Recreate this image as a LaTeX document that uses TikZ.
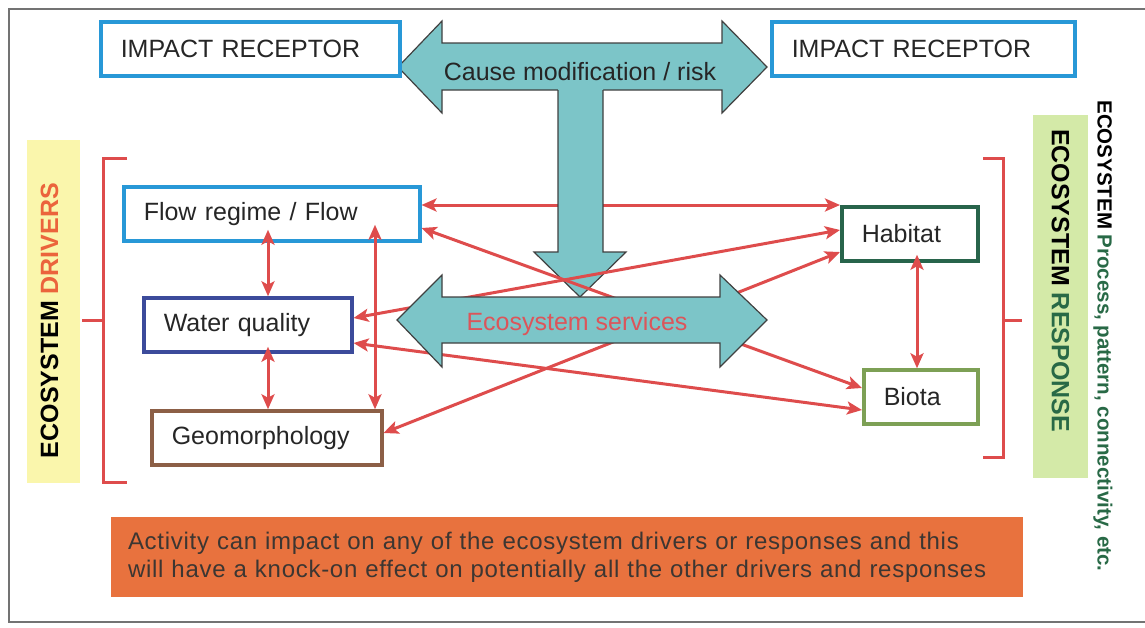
\documentclass[tikz,border=0pt]{standalone}
\usepackage{fontspec}
\setmainfont{Liberation Sans}
\newfontfamily\notefont[LetterSpace=3]{Liberation Sans}
\usetikzlibrary{positioning,arrows.meta,calc}
\definecolor{receptorblue}{RGB}{40,152,215}
\definecolor{waterblue}{RGB}{60,75,155}
\definecolor{geobrown}{RGB}{140,95,70}
\definecolor{habitatgreen}{RGB}{40,100,75}
\definecolor{biotagreen}{RGB}{125,160,85}
\definecolor{arrowteal}{RGB}{124,197,200}
\definecolor{linkred}{RGB}{222,76,76}
\definecolor{servicesred}{RGB}{220,85,90}
\definecolor{driveryellow}{RGB}{250,246,172}
\definecolor{driverorange}{RGB}{235,100,60}
\definecolor{responsegreen}{RGB}{212,234,168}
\definecolor{textgreen}{RGB}{40,105,70}
\definecolor{noteorange}{RGB}{232,114,62}
\definecolor{notegrey}{RGB}{60,54,50}
\tikzset{
	>={Stealth[length=15pt,width=13pt,inset=3.5pt]}
}

\begin{document}
\begin{tikzpicture}[
x = 1pt, y = -1pt,
every node/.style = {
	font = \fontsize{25}{28}\selectfont
},
box/.style = {
	draw,
	line width = 3.5pt,
	fill = white,
	minimum height = 54pt,
	inner xsep = 20pt,
	align = left,
	anchor = west,
	text = black!85
},
bigarrow/.style = {
	fill = arrowteal,
	draw = black!75,
	line width = 1.2pt
},
link/.style = {
	<->,
	draw = linkred,
	line width = 3pt
},
bracket/.style = {
	draw = linkred,
	line width = 3pt
},
sidelabel/.style = {
	font = \bfseries\fontsize{25}{28}\selectfont
}
]
\useasboundingbox (0,0) rectangle (1145,627);
\draw[black!55, line width=1.5pt] (1145,9) -- (9,9) -- (9,622) -- (1145,622);

% receptors and cause arrow
\draw[bigarrow] (398,67) -- (442,21) -- (442,43) -- (722,43) -- (722,21) -- (767,67) -- (722,113) -- (722,90) -- (442,90) -- (442,113) -- cycle;
\node (cause) [text=black!85] at (580,72) {Cause modification / risk};
\node (recleft) [box, draw=receptorblue, text width=259pt] at (99,49) {IMPACT RECEPTOR};
\node (recright) [box, draw=receptorblue, text width=263pt] at (770,49) {IMPACT RECEPTOR};

% drivers
\node (flow) [box, draw=receptorblue, text width=256pt] at (122,214) {Flow regime / Flow};
\node (water) [box, draw=waterblue, text width=168pt] at (142,325) {Water quality};
\node (geo) [box, draw=geobrown, text width=190pt] at (150,438) {Geomorphology};

% responses
\node (hab) [box, draw=habitatgreen, text width=96pt] at (840,234) {Habitat};
\node (biota) [box, draw=biotagreen, text width=74pt] at (862,397) {Biota};

\draw[link] ([yshift=9pt]flow.east) -- ([yshift=29pt]hab.west);

% downward arrow
\fill[arrowteal] (558,88) -- (558,252) -- (534,252) -- (580,297) -- (626,252) -- (603,252) -- (603,88) -- cycle;
\draw[bigarrow, fill=none] (558,90) -- (558,252) -- (534,252) -- (580,297) -- (626,252) -- (603,252) -- (603,90);

\draw[link] ([yshift=-14pt]flow.east) -- ([yshift=9pt]biota.west);
\draw[link] ([yshift=7pt]water.east) -- ([yshift=4pt]hab.west);
\draw[link] ([yshift=-18pt]water.east) -- ([yshift=-13pt]biota.west);
\draw[link] ([yshift=5pt]geo.east) -- ([yshift=-18pt]hab.west);

\draw[link] ([xshift=146pt,yshift=13pt]flow.south west) -- ([xshift=126pt]water.north west);
\draw[link] ([xshift=126pt,yshift=7pt]water.south west) -- ([xshift=118pt]geo.north west);
\draw[link] ([xshift=253pt,yshift=18pt]flow.south west) -- ([xshift=225pt]geo.north west);
\draw[link] ([xshift=77pt,yshift=8pt]hab.south west) -- ([xshift=55pt]biota.north west);

% services arrow
\draw[bigarrow] (397,320) -- (442,275) -- (442,297) -- (720,297) -- (720,275) -- (767,320) -- (720,367) -- (720,343) -- (442,343) -- (442,367) -- cycle;
\node (services) [text=servicesred] at (577,324) {Ecosystem services};

% brackets and side labels
\draw[bracket] (127,158) -- (103,158) -- (103,482) -- (127,482);
\draw[bracket] (103,320) -- (82,320);
\draw[bracket] (983,158) -- (1003,158) -- (1003,457) -- (983,457);
\draw[bracket] (1003,320) -- (1022,320);

\node (driversbox) [fill=driveryellow, minimum width=53pt, minimum height=343pt] at (53.5,311.5) {};
\node (drivers) [sidelabel, rotate=90] at ([xshift=-4pt,yshift=-9pt]driversbox.center) {ECOSYSTEM \textcolor{driverorange}{DRIVERS}};

\node (responsebox) [fill=responsegreen, minimum width=55pt, minimum height=363pt] at (1060.5,296.5) {};
\node (response) [sidelabel, rotate=-90] at ([yshift=16pt]responsebox.center) {ECOSYSTEM \textcolor{textgreen}{RESPONSE}};
\node (process) [font=\bfseries\fontsize{20.5}{24}\selectfont, rotate=-90] at (1103,336) {ECOSYSTEM \textcolor{textgreen}{Process, pattern, connectivity, etc.}};

% note
\node (note) [fill=noteorange, minimum height=80pt, text width=878pt, inner xsep=17pt, align=left, text=notegrey, font=\notefont\fontsize{24}{28}\selectfont] at (567,557) {Activity can impact on any of the ecosystem drivers or responses and this\\will have a knock-on effect on potentially all the other drivers and responses};

\end{tikzpicture}
\end{document}
